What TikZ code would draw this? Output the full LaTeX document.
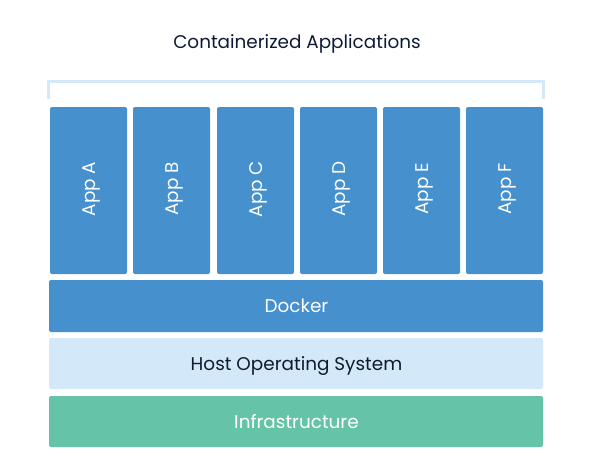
\documentclass[tikz,border=0pt]{standalone}
\usepackage{fontspec}
\setmainfont{Poppins}
\definecolor{appblue}{HTML}{4590CD}
\definecolor{hostblue}{HTML}{D3E8F8}
\definecolor{infragreen}{HTML}{65C4A8}
\definecolor{navy}{HTML}{0F1B35}
\tikzset{lbl/.style={inner sep=0pt,anchor=base,font=\fontsize{18.4}{20}\selectfont}}
\begin{document}
\begin{tikzpicture}[x=1pt,y=-1pt,
  applabel/.style={lbl,text=white,rotate=90}]
\useasboundingbox (0,0) rectangle (594,472);
\fill[white] (0,0) rectangle (594,472);
\node[lbl,text=navy] (title) at (297,48) {Containerized Applications};
\draw[hostblue,line width=3pt] (48.5,99) -- (48.5,81.5) -- (543.5,81.5) -- (543.5,99);
\foreach \n/\x in {A/50,B/133,C/217,D/300,E/383,F/466}{
  \fill[appblue,rounded corners=2pt] (\x,107) rectangle ++(77,167);
  \node[applabel] (app\n) at ({\x+45.5},189) {App \n};
}
\fill[appblue,rounded corners=2pt] (49,280) rectangle (543,332);
\node[lbl,text=white] (docker) at (296.5,312) {Docker};
\fill[hostblue,rounded corners=2pt] (49,338) rectangle (543,389);
\node[lbl,text=navy] (host) at (296.5,370) {Host Operating System};
\fill[infragreen,rounded corners=2pt] (49,396) rectangle (543,447);
\node[lbl,text=white] (infra) at (296.5,428) {Infrastructure};
\end{tikzpicture}
\end{document}
